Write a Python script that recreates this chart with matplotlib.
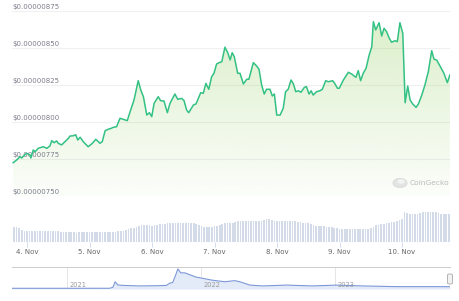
import matplotlib
matplotlib.use('Agg')
import matplotlib.pyplot as plt
import matplotlib.dates as mdates
from matplotlib.patches import FancyBboxPatch, Circle
from matplotlib.ticker import FuncFormatter
import numpy as np
import pandas as pd

# price, hours after 2023-11-03 18:00, price in units of 1e-8 USD
hours = [0.7, 2.0, 3.3, 4.0, 5.0, 5.9, 7.2, 7.5, 8.4, 9.1, 10.3, 12.3, 13.6, 14.8,
         15.5, 16.4, 17.4, 18.0, 19.3, 20.6, 21.9, 22.5, 23.8, 24.7, 25.5, 26.4,
         27.6, 29.5, 31.1, 32.4, 33.4, 34.0, 34.9, 36.0, 37.2, 38.3, 39.1, 40.4,
         41.7, 43.0, 44.5, 45.6, 47.1, 48.7, 49.7, 50.7, 52.0, 53.0, 53.9, 54.8,
         56.4, 57.3, 58.6, 59.9, 60.9, 62.8, 63.9, 65.4, 66.3, 67.3, 68.1, 69.9,
         70.9, 72.7, 73.7, 74.7, 75.8, 76.9, 77.8, 78.8, 79.8, 80.8, 82.0, 83.1,
         84.0, 84.8, 85.6, 86.9, 87.8, 89.1, 90.4, 91.2, 92.9, 94.2, 95.1, 96.1,
         97.1, 98.0, 99.3, 100.2, 101.0, 101.9, 103.2, 104.4, 105.3, 106.3, 107.4,
         108.3, 109.2, 110.2, 111.2, 112.5, 113.3, 114.3, 115.1, 115.9, 117.2,
         118.5, 119.4, 120.7, 121.7, 123.4, 124.3, 125.2, 125.9, 127.5, 129.4,
         130.7, 131.6, 132.3, 133.2, 134.1, 135.1, 136.2, 137.4, 138.4, 139.0,
         139.9, 141.2, 142.2, 143.1, 144.1, 145.1, 146.0, 147.3, 148.2, 149.2,
         150.3, 151.2, 152.2, 153.1, 154.1, 155.4, 156.3, 157.6, 158.8, 160.1,
         161.4, 162.3, 163.3, 164.6, 166.1, 167.4, 168.4]
prices = [772.5, 774.3, 776.5, 775.7, 777.7, 778.8, 777.7, 775.7, 781.1, 779.9,
          782.2, 783.3, 782.2, 783.8, 787.4, 786.0, 787.2, 785.6, 784.5, 786.7,
          789.0, 790.5, 790.7, 791.4, 787.8, 789.7, 786.7, 783.3, 785.6, 788.3,
          786.7, 785.6, 786.7, 794.1, 795.1, 795.7, 796.4, 796.8, 802.5, 801.8,
          800.9, 807.0, 814.9, 827.9, 821.6, 817.1, 804.7, 806.3, 803.6, 812.6,
          817.1, 814.4, 814.2, 806.3, 812.6, 818.9, 815.3, 816.0, 814.4, 808.1,
          806.3, 811.5, 812.2, 819.8, 819.4, 826.1, 822.1, 830.6, 832.9, 839.2,
          840.1, 840.7, 850.5, 846.8, 841.9, 846.8, 844.1, 832.9, 832.9, 825.7,
          828.9, 828.9, 840.1, 837.8, 835.6, 825.0, 818.9, 822.1, 822.1, 817.6,
          818.9, 804.7, 804.7, 809.3, 820.5, 822.1, 828.4, 825.7, 820.5, 821.1,
          820.1, 823.4, 823.9, 818.9, 821.1, 818.2, 820.5, 821.1, 822.1, 827.9,
          827.2, 827.9, 825.7, 822.8, 822.8, 828.4, 833.6, 832.4, 831.1, 830.2,
          834.7, 827.9, 832.9, 836.3, 845.3, 850.9, 867.8, 862.2, 867.1, 858.1,
          863.3, 861.0, 856.6, 853.9, 854.9, 854.3, 867.1, 859.9, 813.0, 824.3,
          814.9, 812.2, 809.9, 812.2, 818.2, 825.0, 834.0, 848.2, 842.4, 841.9,
          837.8, 832.9, 826.6, 831.8]

# hourly volume (relative units)
volume = ([15, 15, 15, 14, 12] + [10.8] * 14 +
          [9.6, 9.4, 9.4, 9.3, 9.4, 9.4, 9.2, 9.4, 9.4, 9.4, 9.3, 9.4, 9.4, 9.4,
           9.3, 9.4, 9.4, 9.4, 9.5, 9.6, 9.8] +
          [10.2, 10.5, 10.8, 11, 12, 13, 13.5, 14, 15, 16, 16.5, 16.7, 16.7, 16.5,
           16, 16.5, 17, 17.5, 18, 18.2, 18.4] + [18.4] * 10 +
          [17.5, 16.7, 16, 14.5, 14.4, 14.5, 15, 15.5, 16, 16.7, 17.5,
           18.4, 18.4, 18.4, 18.8, 19.5] + [21] * 10 +
          [22, 22.7, 22.5, 21.5, 21] + [20.7] * 8 +
          [20, 19.5, 19, 19, 18.5, 18, 17,
           16, 16, 15.5, 15.5, 15, 15, 14.5, 14, 13.5, 13, 13, 12.5] + [12.4] * 8 +
          [13, 14, 15, 16.7, 17, 17.5, 18, 18.4, 19, 19.5, 20, 21, 21.7, 23,
           29.4, 28.5, 27.4, 27.4, 27.5, 28, 29, 30, 30, 30, 30, 29.8, 29.5, 29,
           27.7, 28, 27.7, 27.5])

# long history for the navigator
nav_dates = ['2020-08-04', '2020-12-13', '2021-04-27', '2021-05-06', '2021-05-12',
             '2021-05-19', '2021-05-31', '2021-07-18', '2021-09-10', '2021-09-29',
             '2021-10-08', '2021-10-16', '2021-10-24', '2021-10-30', '2021-11-07',
             '2021-11-18', '2021-12-02', '2021-12-18', '2022-01-03', '2022-01-30',
             '2022-03-07', '2022-04-03', '2022-04-17', '2022-05-14', '2022-06-18',
             '2022-08-22', '2022-11-01', '2023-01-06', '2023-03-17', '2023-06-18',
             '2023-09-16', '2023-11-04', '2023-11-10']
nav_prices = [250, 250, 260, 600, 2600, 1500, 1300, 1100, 1200, 1300, 2100, 2300,
              5000, 7200, 5800, 5800, 5100, 4300, 3900, 3200, 2600, 3000, 2600,
              1400, 1100, 1400, 1100, 1400, 1100, 850, 850, 830, 830]

price_ticks = [750, 775, 800, 825, 850, 875]

start = pd.Timestamp('2023-11-03 18:00')
t = start + pd.to_timedelta(hours, unit='h')
tv = start + pd.to_timedelta(np.arange(len(volume)), unit='h')
x0 = start + pd.Timedelta(hours=0.24)
x1 = start + pd.Timedelta(hours=168.43)

W, H = 460, 301
fig = plt.figure(figsize=(W / 100, H / 100), dpi=100)


def box(l, t_, r, b):
    return [l / W, 1 - b / H, (r - l) / W, (b - t_) / H]


green = '#33c184'

# price panel
ax = fig.add_axes(box(12, 11, 450, 196))
ax.set_xlim(x0, x1)
ax.set_ylim(750, 875)
for s in ax.spines.values():
    s.set_visible(False)
ax.set_xticks([])
ax.set_yticks([])
for v in price_ticks:
    ax.axhline(v, color='#f0f0f0', lw=0.8, zorder=0)
    ax.annotate('$0.00000%d' % v, xy=(0, v), xycoords=ax.get_yaxis_transform(),
                xytext=(0, 1), textcoords='offset points',
                ha='left', va='bottom', fontsize=5.0, color='#7d7d8c',
                annotation_clip=False)

tn = mdates.date2num(t)
poly = ax.fill_between(tn, prices, 750, facecolor='none', edgecolor='none')
rgba = np.zeros((256, 1, 4))
rgba[..., 0] = 0.55
rgba[..., 1] = 0.80
rgba[..., 2] = 0.33
rgba[..., 3] = np.linspace(0.32, 0.03, 256).reshape(-1, 1)
img = ax.imshow(rgba, aspect='auto', origin='upper',
                extent=[mdates.date2num(x0), mdates.date2num(x1), 750, 875],
                zorder=1)
img.set_clip_path(poly.get_paths()[0], transform=ax.transData)
ax.plot(t, prices, color=green, lw=1.1, zorder=3, solid_joinstyle='round')

# watermark
fig.patches.append(Circle((400 / W, 1 - 183 / H), 7 / W, transform=fig.transFigure,
                          facecolor='#e4e4e4', edgecolor='#d8d8d8', lw=0.6))
fig.patches.append(Circle((401 / W, 1 - 181.5 / H), 3.5 / W, transform=fig.transFigure,
                          facecolor='#f3f3f3', edgecolor='none'))
fig.text(410 / W, 1 - 183 / H, 'CoinGecko', fontsize=5.4, color='#bdbdbd',
         ha='left', va='center')

# volume panel
axv = fig.add_axes(box(12, 196, 450, 241.7))
axv.bar(tv, volume, width=0.65 / 24, color='#d3dbe8', align='center')
axv.set_xlim(x0, x1)
axv.set_ylim(0, 46)
for s in axv.spines.values():
    s.set_visible(False)
axv.set_yticks([])
axv.xaxis.set_major_locator(mdates.DayLocator())
axv.xaxis.set_major_formatter(FuncFormatter(
    lambda v, p: '%d. %s' % (mdates.num2date(v).day, mdates.num2date(v).strftime('%b'))))
axv.tick_params(axis='x', length=3.5, width=0.6, color='#ccd6eb',
                labelsize=5.0, labelcolor='#666666', pad=2)

# navigator
axn = fig.add_axes(box(12, 267, 450, 289))
nd = pd.to_datetime(nav_dates)
axn.fill_between(nd, nav_prices, 0, color='#e4ebf8', lw=0)
axn.plot(nd, nav_prices, color='#7b97d8', lw=0.8)
axn.set_xlim(pd.Timestamp('2020-08-04'), pd.Timestamp('2023-11-10 18:00'))
axn.set_ylim(0, 7900)
axn.set_xticks([])
axn.set_yticks([])
for k, s in axn.spines.items():
    s.set_visible(k == 'top')
axn.spines['top'].set_color('#cccccc')
axn.spines['top'].set_linewidth(0.7)
for yr in ['2021', '2022', '2023']:
    d = pd.Timestamp(yr + '-01-01')
    axn.axvline(d, color='#e6e6e6', lw=0.7, zorder=0)
    axn.annotate(yr, xy=(d, 0), xytext=(2, 1), textcoords='offset points',
                 fontsize=4.8, color='#999999', ha='left', va='bottom')
axn.axvline(pd.Timestamp('2023-11-10 18:00'), color='#999999', lw=0.8)
fig.patches.append(FancyBboxPatch((447.5 / W, 1 - 284 / H), 5 / W, 10 / H,
                                  boxstyle='round,pad=0,rounding_size=0.004',
                                  transform=fig.transFigure, facecolor='#f2f2f2',
                                  edgecolor='#999999', lw=0.5))

fig.savefig('out.png', dpi=100)
